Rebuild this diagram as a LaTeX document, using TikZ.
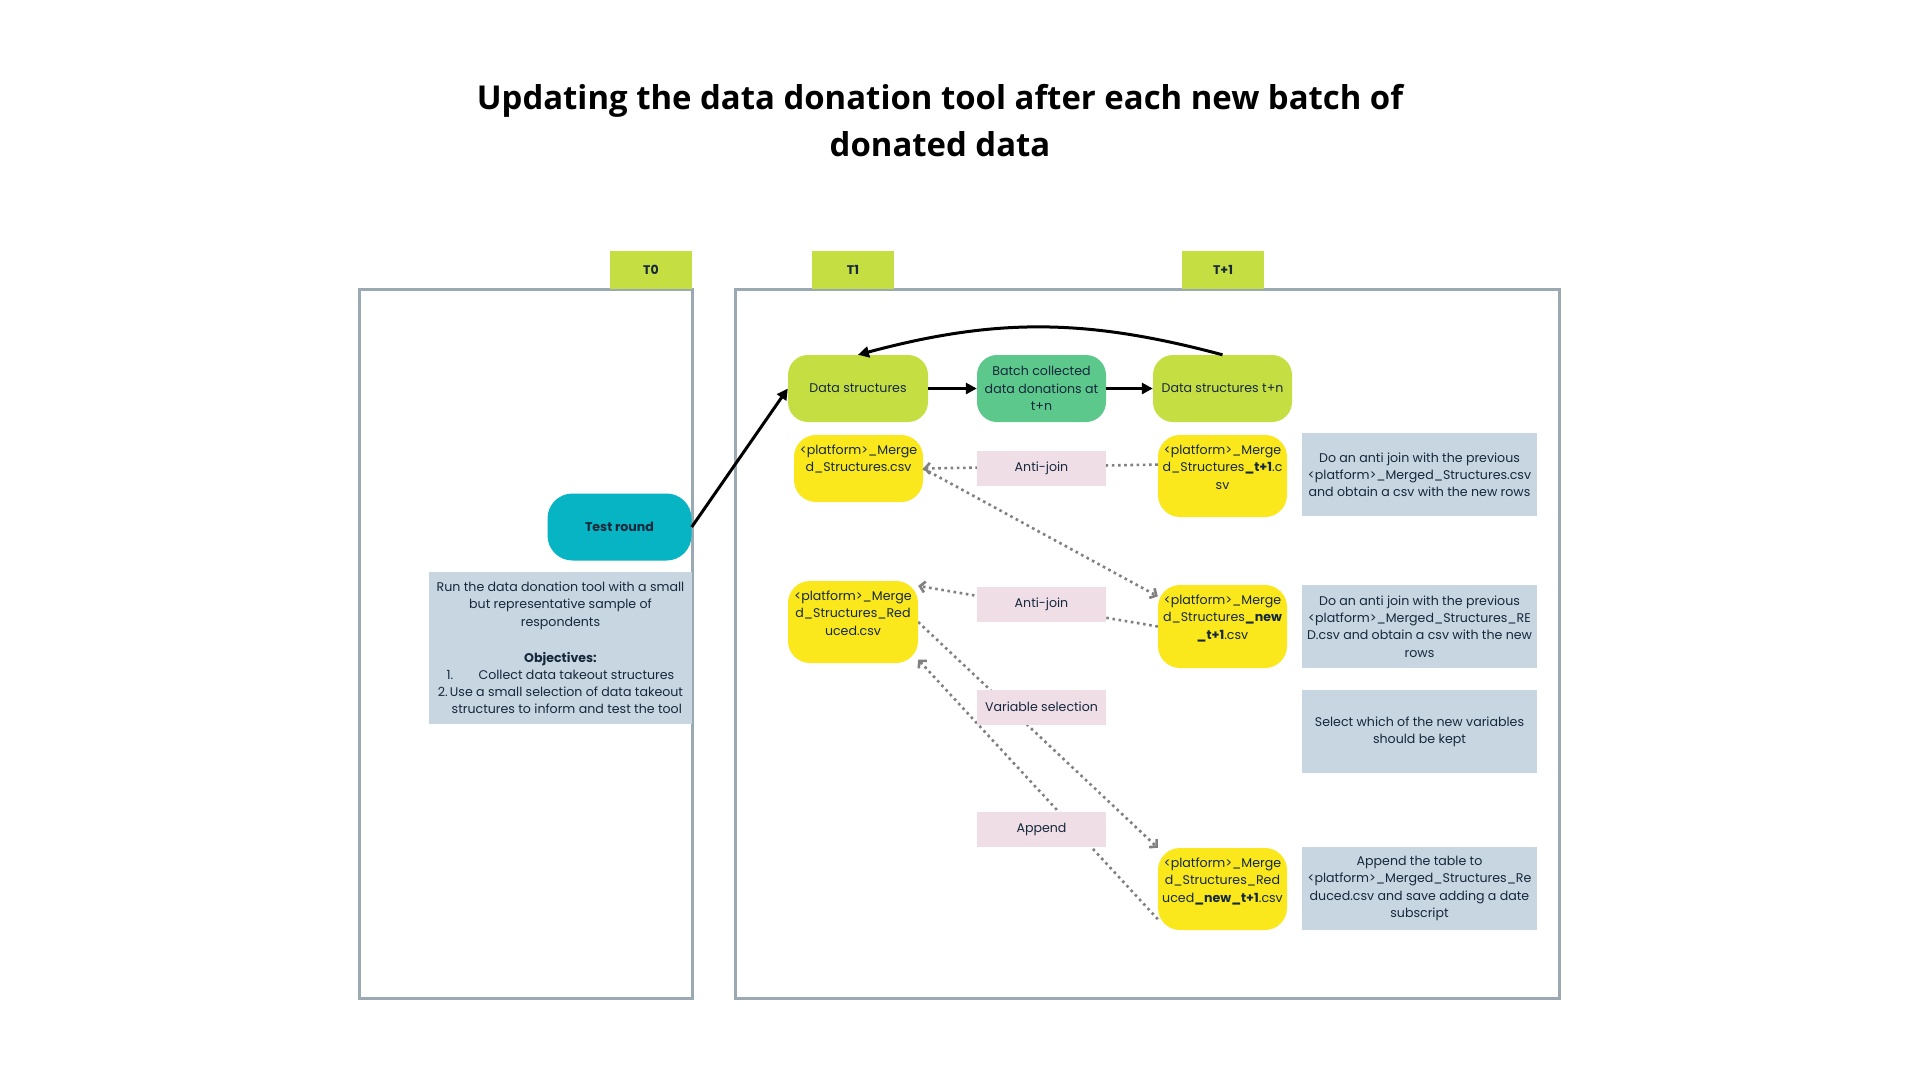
\documentclass[tikz,border=0pt]{standalone}
\usepackage{fontspec}
\setmainfont{Poppins}
\newfontfamily\titlefont{Open Sans}
\usepackage{xcolor}
\usetikzlibrary{arrows.meta,positioning,backgrounds}
\definecolor{limegreen}{RGB}{197,222,66}
\definecolor{batchgreen}{RGB}{92,200,140}
\definecolor{fileyellow}{RGB}{250,232,28}
\definecolor{testteal}{RGB}{6,180,195}
\definecolor{notegray}{RGB}{200,214,225}
\definecolor{oppink}{RGB}{240,222,231}
\definecolor{framegray}{RGB}{155,169,178}
\definecolor{dotgray}{RGB}{128,128,128}
\definecolor{inkblue}{RGB}{22,40,60}

\begin{document}
\begin{tikzpicture}[x=1pt, y=-1pt,
      font=\fontsize{12.6}{17.2}\selectfont, text=inkblue,
      tab/.style={fill=limegreen, minimum width=82pt, minimum height=38pt,
                  font=\fontsize{12.5}{14}\selectfont\bfseries},
      frame/.style={draw=framegray, line width=3pt},
      pill/.style={rounded corners=20pt, minimum width=129pt,
                   minimum height=67pt, align=center, inner sep=2pt},
      filebox/.style={fill=fileyellow, rounded corners=22pt,
                      minimum width=129pt, inner sep=0pt},
      op/.style={fill=oppink, minimum width=129pt, minimum height=35pt},
      note/.style={fill=notegray, minimum width=235pt, minimum height=83pt,
                   align=center, inner sep=2pt},
      arr/.style={-{Triangle[length=11pt,width=11pt]}, line width=3pt},
      dots/.style={-{Straight Barb[length=5pt,width=11pt]}, draw=dotgray,
                   line width=2.6pt, dash pattern=on 2.6pt off 3.6pt}
    ]
    \useasboundingbox (0,0) rectangle (1920,1080);

    \node[anchor=north, align=center, text=black,
          font=\titlefont\fontsize{32.9}{47}\selectfont\bfseries] (title) at (940,81)
          {Updating the data donation tool after each new batch of\\donated data};

    \draw[frame] (359,289) rectangle (692,998);
    \draw[frame] (735,289) rectangle (1559,998);

    \foreach \x/\t/\n in {651/T0/t0, 853/T1/t1, 1223/T+1/tn}{
      \node[tab] (\n) at (\x,270) {\t};
    }

    \node[pill, fill=testteal, minimum width=144pt, rounded corners=25pt,
          font=\fontsize{12.6}{17}\selectfont\bfseries] (test) at (619.5,527) {Test round};
    \node[note, minimum width=263pt, minimum height=152pt] (desc) at (560.5,648)
          {Run the data donation tool with a small\\but representative sample of\\respondents\\[19pt]
           \textbf{Objectives:}\\1.\hspace{2em}Collect data takeout structures\\
           2.\,Use a small selection of data takeout\\\hspace{1em}structures to inform and test the tool};

    \node[pill, fill=limegreen, minimum width=140pt] (ds) at (858,388.5) {Data structures};
    \node[pill, fill=batchgreen] (batch) at (1041.5,388.5)
          {Batch collected\\data donations at\\t+n};
    \node[pill, fill=limegreen, minimum width=139pt] (dstn) at (1222.5,388.5) {Data structures t+n};

    \node[filebox, minimum height=67pt,
          label={[anchor=north, align=center, inner sep=0pt, yshift=-10pt]north:
          <platform>\_Merge\\d\_Structures.csv}] (mcsv) at (858.5,468.5) {};
    \node[filebox, minimum height=82pt,
          label={[anchor=north, align=center, inner sep=0pt, yshift=-10pt]north:
          <platform>\_Merge\\d\_Structures\textbf{\_t+1}.c\\sv}] (t1csv) at (1222.5,476) {};
    \node[filebox, minimum width=130pt, minimum height=82pt,
          label={[anchor=north, align=center, inner sep=0pt, yshift=-10pt]north:
          <platform>\_Merge\\d\_Structures\_Red\\uced.csv}] (rcsv) at (853,622) {};
    \node[filebox, minimum height=83pt,
          label={[anchor=north, align=center, inner sep=0pt, yshift=-10pt]north:
          <platform>\_Merge\\d\_Structures\textbf{\_new}\\\textbf{\_t+1}.csv}] (newcsv) at (1222.5,626.5) {};
    \node[filebox, minimum height=82pt,
          label={[anchor=north, align=center, inner sep=0pt, yshift=-10pt]north:
          <platform>\_Merge\\d\_Structures\_Red\\uced\textbf{\_new\_t+1}.csv}] (rnew) at (1222.5,889) {};

    \node[op] (ajA) at (1041.5,468.5) {Anti-join};
    \node[op] (ajB) at (1041.5,604.5) {Anti-join};
    \node[op] (varsel) at (1041.5,707) {Variable selection};
    \node[op] (append) at (1041.5,829.5) {Append};

    \node[note] (n1) at (1419.5,474.5)
          {Do an anti join with the previous\\<platform>\_Merged\_Structures.csv\\and obtain a csv with the new rows};
    \node[note] (n2) at (1419.5,626.5)
          {Do an anti join with the previous\\<platform>\_Merged\_Structures\_RE\\D.csv and obtain a csv with the new\\rows};
    \node[note] (n3) at (1419.5,731.5)
          {Select which of the new variables\\should be kept};
    \node[note] (n4) at (1419.5,888.5)
          {Append the table to\\<platform>\_Merged\_Structures\_Re\\duced.csv and save adding a date\\subscript};

    \draw[arr] (test.east) -- (ds.west);
    \draw[arr] (ds) -- (batch);
    \draw[arr] (batch) -- (dstn);
    \draw[arr] (dstn.north) to[bend right=15] (ds.north);
    \draw[dots] (mcsv.east) -- (newcsv.155);

    \begin{scope}[on background layer]
      \fill[white] (0,0) rectangle (1920,1080);
      \draw[dots] (t1csv.170) -- (mcsv.east);
      \draw[dots] (newcsv.west) -- (rcsv.29);
      \draw[dots] (rcsv.east) -- (rnew.north west);
      \draw[dots] (rnew.205) -- (rcsv.-30);
    \end{scope}
  \end{tikzpicture}
\end{document}
